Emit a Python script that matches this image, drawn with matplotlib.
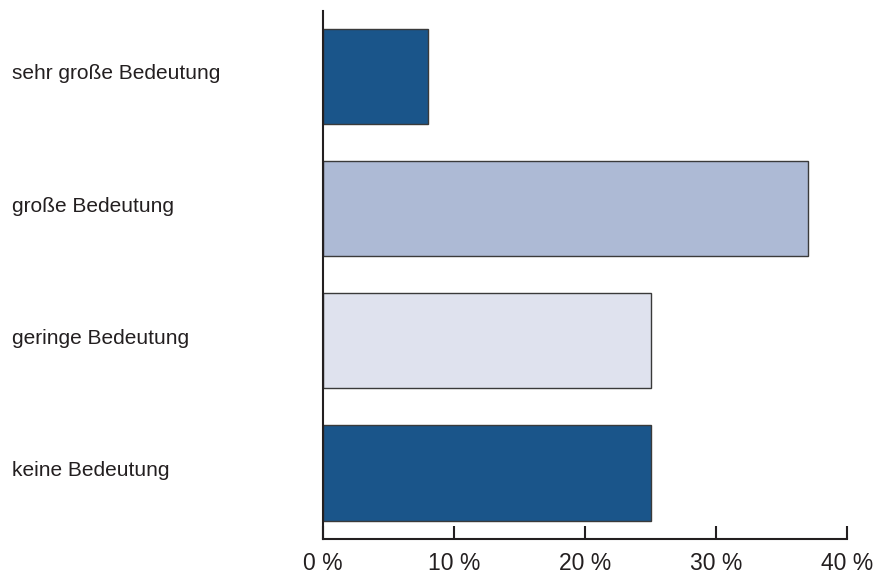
import matplotlib
import matplotlib.pyplot as plt
import matplotlib.transforms as mtransforms

matplotlib.use("Agg")

# data
categories = ["sehr große Bedeutung", "große Bedeutung", "geringe Bedeutung", "keine Bedeutung"]
shares = [8, 37, 25, 25]
bar_colors = ["#1a558a", "#adbad5", "#dfe2ee", "#1a558a"]
tick_values = [0, 10, 20, 30, 40]
tick_labels = ["0 %", "10 %", "20 %", "30 %", "40 %"]

axis_color = "#231f20"

fig = plt.figure(figsize=(8.75, 5.78), dpi=100)
ax = fig.add_axes([323 / 875, 39 / 578, 524 / 875, 528.5 / 578])

positions = list(range(len(categories)))[::-1]
ax.barh(
    positions,
    shares,
    height=0.72,
    color=bar_colors,
    edgecolor="#3a3a3a",
    linewidth=1.0,
    zorder=2,
)

ax.set_xlim(0, 40)
ax.set_ylim(-0.5, 3.5)

for side in ["top", "right"]:
    ax.spines[side].set_visible(False)
for side in ["left", "bottom"]:
    ax.spines[side].set_color(axis_color)
    ax.spines[side].set_linewidth(1.5)
    ax.spines[side].set_zorder(3)

ax.set_yticks([])
ax.set_xticks(tick_values)
ax.set_xticklabels(tick_labels, family=["Liberation Sans", "DejaVu Sans"], fontsize=16.5, color=axis_color)
ax.tick_params(axis="x", direction="in", length=9.5, width=1.5, color=axis_color, pad=9)

# category labels, left aligned near the figure edge
trans = mtransforms.blended_transform_factory(fig.transFigure, ax.transData)
for pos, name in zip(positions, categories):
    ax.text(
        12 / 875,
        pos + 0.02,
        name,
        transform=trans,
        ha="left",
        va="center",
        fontsize=15,
        family=["Liberation Sans", "DejaVu Sans"],
        color=axis_color,
    )

fig.savefig("out.png", dpi=100)
plt.close(fig)
